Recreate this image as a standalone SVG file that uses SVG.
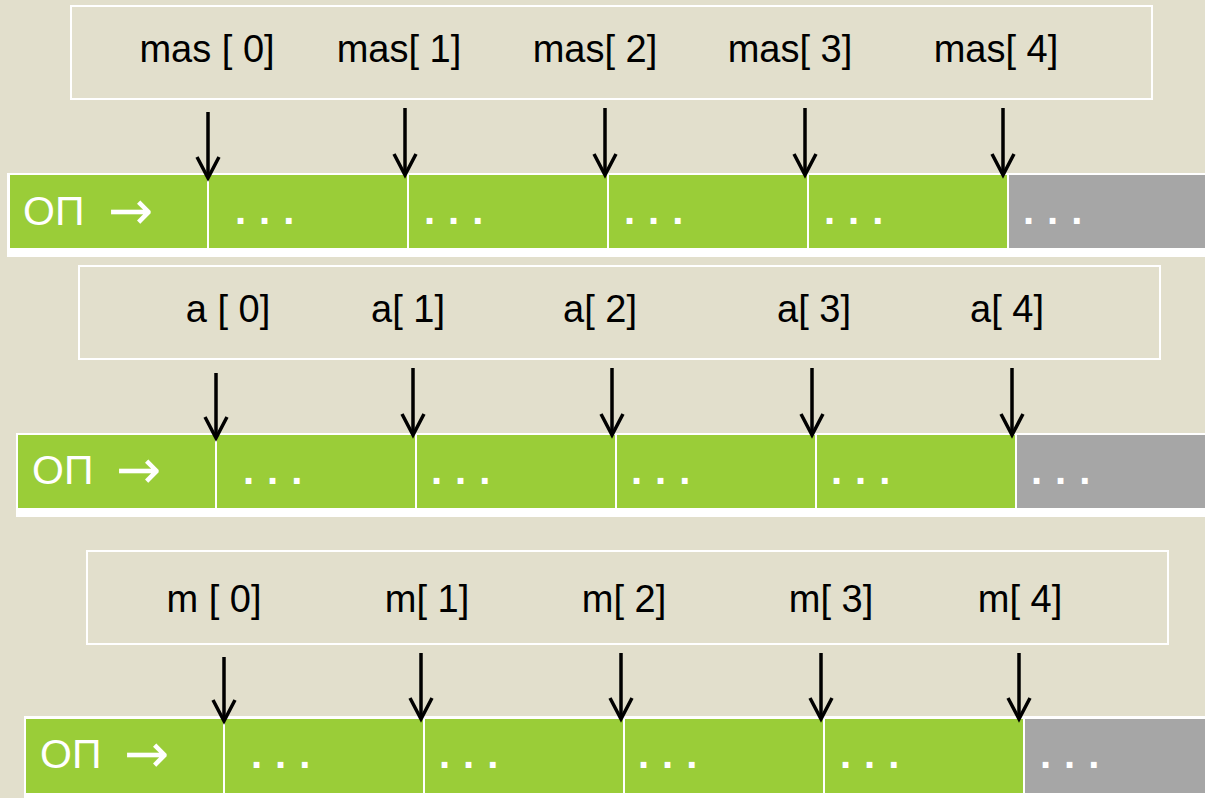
<svg xmlns="http://www.w3.org/2000/svg" width="1205" height="798" viewBox="0 0 1205 798">
<defs>
<style>
.bg{fill:#E2DFCC}
.box{fill:none;stroke:#FFFFFF;stroke-width:2}
.strip{fill:#FFFFFF}
.g{fill:#9ACD38}
.gr{fill:#A6A6A6}
.lbl{font-family:"Liberation Sans",Arial,sans-serif;font-size:38px;fill:#000;text-anchor:middle}
.op{font-family:"Liberation Sans",Arial,sans-serif;font-size:41px;fill:#FFFFFF}
.ar{font-family:"DejaVu Sans",sans-serif;font-size:54px}
.dots{font-family:"Liberation Sans",Arial,sans-serif;font-size:40px;font-weight:bold;fill:#FFFFFF;letter-spacing:13px}
.arr{stroke:#000;stroke-width:3.5;fill:none;marker-end:url(#head)}
</style>
<marker id="head" markerUnits="userSpaceOnUse" orient="auto" refX="0" refY="0" overflow="visible" markerWidth="30" markerHeight="30">
<path d="M-21,-11 L0,0 L-21,11" fill="none" stroke="#000" stroke-width="3.5"/>
</marker>
</defs>
<rect class="bg" x="0" y="0" width="1205" height="798"/>

<g id="row1-labels">
<rect class="box" x="71" y="6" width="1081" height="93"/>
<text class="lbl" x="207" y="62">mas [ 0]</text>
<text class="lbl" x="399" y="62">mas[ 1]</text>
<text class="lbl" x="595" y="62">mas[ 2]</text>
<text class="lbl" x="790" y="62">mas[ 3]</text>
<text class="lbl" x="996" y="62">mas[ 4]</text>
</g>
<g id="row1-memory">
<rect class="strip" x="7" y="173" width="1198" height="84"/>
<rect class="g" x="10" y="175" width="197" height="73"/>
<rect class="g" x="209" y="175" width="198" height="73"/>
<rect class="g" x="409" y="175" width="198" height="73"/>
<rect class="g" x="609" y="175" width="198" height="73"/>
<rect class="g" x="809" y="175" width="198" height="73"/>
<rect class="gr" x="1009" y="175" width="196" height="73"/>
<text class="op" x="23" y="225">ОП<tspan class="ar" x="108" y="229">→</tspan></text>
<text class="dots" x="235" y="224">...</text>
<text class="dots" x="424" y="224">...</text>
<text class="dots" x="624" y="224">...</text>
<text class="dots" x="824" y="224">...</text>
<text class="dots" x="1023" y="224">...</text>
</g>

<g id="row2-labels">
<rect class="box" x="79" y="266" width="1081" height="93"/>
<text class="lbl" x="228" y="322">a [ 0]</text>
<text class="lbl" x="408" y="322">a[ 1]</text>
<text class="lbl" x="600" y="322">a[ 2]</text>
<text class="lbl" x="814" y="322">a[ 3]</text>
<text class="lbl" x="1007" y="322">a[ 4]</text>
</g>
<g id="row2-memory">
<rect class="strip" x="16" y="433" width="1189" height="84"/>
<rect class="g" x="18" y="435" width="197" height="73"/>
<rect class="g" x="217" y="435" width="198" height="73"/>
<rect class="g" x="417" y="435" width="198" height="73"/>
<rect class="g" x="617" y="435" width="198" height="73"/>
<rect class="g" x="817" y="435" width="198" height="73"/>
<rect class="gr" x="1017" y="435" width="188" height="73"/>
<text class="op" x="32" y="484">ОП<tspan class="ar" x="116" y="488">→</tspan></text>
<text class="dots" x="243" y="484">...</text>
<text class="dots" x="431" y="484">...</text>
<text class="dots" x="631" y="484">...</text>
<text class="dots" x="831" y="484">...</text>
<text class="dots" x="1031" y="484">...</text>
</g>

<g id="row3-labels">
<rect class="box" x="87" y="551" width="1081" height="93"/>
<text class="lbl" x="214" y="612">m [ 0]</text>
<text class="lbl" x="427" y="612">m[ 1]</text>
<text class="lbl" x="624" y="612">m[ 2]</text>
<text class="lbl" x="831" y="612">m[ 3]</text>
<text class="lbl" x="1020" y="612">m[ 4]</text>
</g>
<g id="row3-memory">
<rect class="strip" x="24" y="716" width="1181" height="82"/>
<rect class="g" x="26" y="719" width="197" height="74"/>
<rect class="g" x="225" y="719" width="198" height="74"/>
<rect class="g" x="425" y="719" width="198" height="74"/>
<rect class="g" x="625" y="719" width="198" height="74"/>
<rect class="g" x="825" y="719" width="198" height="74"/>
<rect class="gr" x="1025" y="719" width="180" height="74"/>
<text class="op" x="40" y="768">ОП<tspan class="ar" x="124" y="772">→</tspan></text>
<text class="dots" x="251" y="768">...</text>
<text class="dots" x="439" y="768">...</text>
<text class="dots" x="638" y="768">...</text>
<text class="dots" x="840" y="768">...</text>
<text class="dots" x="1040" y="768">...</text>
</g>

<g id="connectors">
<path class="arr" d="M208,112 V178"/>
<path class="arr" d="M405,108 V175"/>
<path class="arr" d="M605,108 V175"/>
<path class="arr" d="M805,108 V175"/>
<path class="arr" d="M1003,108 V175"/>
<path class="arr" d="M216,373 V438"/>
<path class="arr" d="M413,368 V435"/>
<path class="arr" d="M612,368 V435"/>
<path class="arr" d="M812,368 V435"/>
<path class="arr" d="M1012,368 V435"/>
<path class="arr" d="M224,657 V721"/>
<path class="arr" d="M421,653 V719"/>
<path class="arr" d="M621,653 V719"/>
<path class="arr" d="M821,653 V719"/>
<path class="arr" d="M1019,653 V719"/>
</g>
</svg>
